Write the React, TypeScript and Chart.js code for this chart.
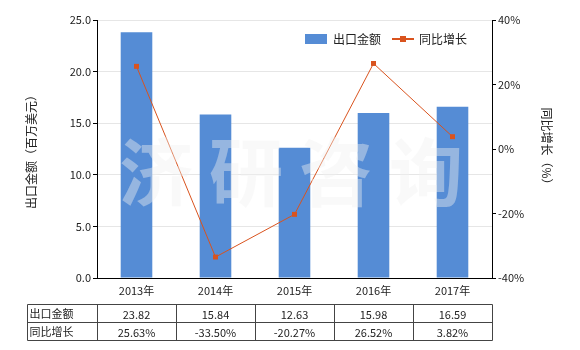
import React, { useEffect, useRef } from "react";
import { Chart, registerables } from "chart.js";

Chart.register(...registerables);

const categories = ["2013年", "2014年", "2015年", "2016年", "2017年"];
const exportValues = [23.82, 15.84, 12.63, 15.98, 16.59];
const growthValues = [25.63, -33.5, -20.27, 26.52, 3.82];
const exportLabels = ["23.82", "15.84", "12.63", "15.98", "16.59"];
const growthLabels = ["25.63%", "-33.50%", "-20.27%", "26.52%", "3.82%"];
const seriesNames = ["出口金额", "同比增长"];
const leftTitle = "出口金额（百万美元）";
const rightTitle = "同比增长（%）";
const watermark = ["济", "研", "咨", "询"];

const FONT = '"Noto Sans CJK SC", "Liberation Sans", sans-serif';
const BAR = "#558cd5";
const LINE = "#d9531e";

const extrasPlugin = {
  id: "extras",
  afterDatasetsDraw(chart: any) {
    const ctx = chart.ctx;
    ctx.save();
    ctx.fillStyle = "rgba(240,240,240,0.42)";
    ctx.font = `bold 74px ${FONT}`;
    ctx.textAlign = "center";
    ctx.textBaseline = "middle";
    const centers = [156, 246, 336, 426];
    watermark.forEach((c, i) => ctx.fillText(c, centers[i], 172));
    ctx.restore();
  },
  afterDraw(chart: any) {
    const ctx = chart.ctx;
    const x = chart.scales.x;
    ctx.save();
    // legend
    ctx.font = `12px ${FONT}`;
    ctx.textBaseline = "middle";
    ctx.textAlign = "left";
    ctx.fillStyle = BAR;
    ctx.fillRect(305, 34, 22, 10);
    ctx.fillStyle = "#222";
    ctx.fillText(seriesNames[0], 333, 39);
    ctx.strokeStyle = LINE;
    ctx.lineWidth = 2;
    ctx.beginPath();
    ctx.moveTo(392, 39);
    ctx.lineTo(414, 39);
    ctx.stroke();
    ctx.fillStyle = LINE;
    ctx.fillRect(400, 36, 6, 6);
    ctx.fillStyle = "#222";
    ctx.fillText(seriesNames[1], 419, 39);

    // table
    const top = 304.5, mid = 322.5, bot = 340.5;
    const left = 27.5;
    const n = categories.length;
    const half = (x.getPixelForValue(1) - x.getPixelForValue(0)) / 2;
    const edges: number[] = [left];
    for (let i = 0; i < n; i++) edges.push(Math.round(x.getPixelForValue(i) - half) + 0.5);
    edges.push(Math.round(x.getPixelForValue(n - 1) + half) + 0.5);
    ctx.strokeStyle = "#444";
    ctx.lineWidth = 1;
    ctx.beginPath();
    const right = edges[edges.length - 1];
    [top, mid, bot].forEach((yy) => {
      ctx.moveTo(left, yy);
      ctx.lineTo(right, yy);
    });
    edges.forEach((ex) => {
      ctx.moveTo(ex, top);
      ctx.lineTo(ex, bot);
    });
    ctx.stroke();
    ctx.font = `11px ${FONT}`;
    ctx.fillStyle = "#222";
    ctx.textAlign = "left";
    ctx.fillText(seriesNames[0], left + 2, (top + mid) / 2);
    ctx.fillText(seriesNames[1], left + 2, (mid + bot) / 2);
    ctx.textAlign = "center";
    for (let i = 0; i < n; i++) {
      const cx = x.getPixelForValue(i);
      ctx.fillText(exportLabels[i], cx, (top + mid) / 2 + 1);
      ctx.fillText(growthLabels[i], cx, (mid + bot) / 2 + 1);
    }
    ctx.restore();
  },
};

export default function App() {
  const ref = useRef<HTMLCanvasElement>(null);
  useEffect(() => {
    if (!ref.current) return;
    const chart = new Chart(ref.current, {
      data: {
        labels: categories,
        datasets: [
          {
            type: "line" as const,
            label: seriesNames[1],
            data: growthValues,
            yAxisID: "y1",
            borderColor: LINE,
            backgroundColor: LINE,
            borderWidth: 1,
            pointStyle: "rect",
            pointRadius: 3.5,
            pointBorderWidth: 0,
            order: 0,
          },
          {
            type: "bar" as const,
            label: seriesNames[0],
            data: exportValues,
            yAxisID: "y",
            backgroundColor: BAR,
            barPercentage: 0.4,
            categoryPercentage: 1,
            order: 1,
          },
        ],
      },
      options: {
        responsive: false,
        animation: false,
        layout: { padding: { top: 20, left: 24, right: 26, bottom: 0 } },
        plugins: { legend: { display: false }, tooltip: { enabled: false } },
        scales: {
          x: {
            grid: { display: false, drawOnChartArea: false, drawTicks: true, tickLength: 4, tickColor: "#000" },
            border: { color: "#000", width: 1 },
            ticks: { color: "#222", font: { family: FONT, size: 11 }, padding: 2 },
            afterFit: (s: any) => { s.height = 72; },
          },
          y: {
            position: "left",
            min: 0,
            max: 25,
            ticks: { stepSize: 5, color: "#222", font: { family: FONT, size: 11 }, padding: 2, callback: (v: any) => Number(v).toFixed(1) },
            grid: { color: "#e6e6e6", tickLength: 4, tickColor: "#000" },
            border: { color: "#000", width: 1 },
            title: { display: true, text: leftTitle, color: "#222", font: { family: FONT, size: 12 }, padding: 0 },
            afterFit: (s: any) => { s.width = 73; },
          },
          y1: {
            position: "right",
            min: -40,
            max: 40,
            ticks: { stepSize: 20, color: "#222", font: { family: FONT, size: 11 }, padding: 2, callback: (v: any) => `${v}%` },
            grid: { drawOnChartArea: false, tickLength: 4, tickColor: "#000" },
            border: { color: "#000", width: 1 },
            title: { display: true, text: rightTitle, color: "#222", font: { family: FONT, size: 12 }, padding: 0 },
            afterFit: (s: any) => { s.width = 62; },
          },
        },
      },
      plugins: [extrasPlugin],
    } as any);
    return () => chart.destroy();
  }, []);
  return (
    <div style={{ position: "fixed", left: 0, top: 0, width: 580, height: 350, background: "#fff" }}>
      <canvas ref={ref} width={580} height={350} style={{ width: 580, height: 350 }} />
    </div>
  );
}
